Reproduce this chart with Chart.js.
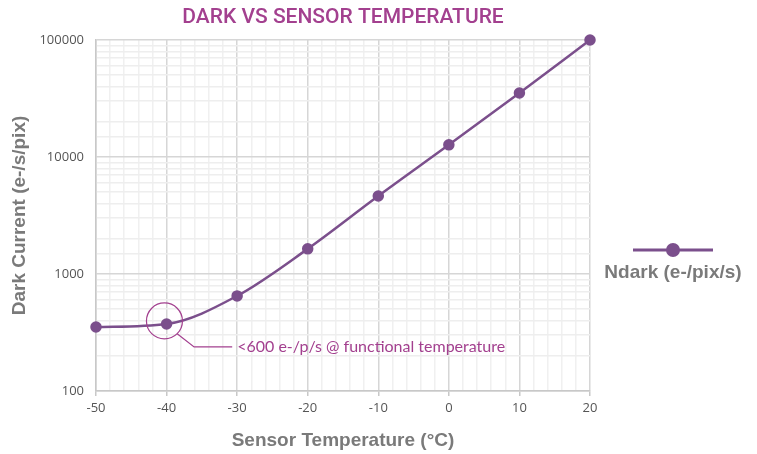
<!DOCTYPE html>
<html>
<head>
<meta charset="utf-8">
<script src="https://cdn.jsdelivr.net/npm/chart.js@4.4.1/dist/chart.umd.min.js"></script>
<style>
  html, body { margin: 0; padding: 0; background: #fff; }
  #wrap { width: 757px; height: 454px; }
</style>
</head>
<body>
<div id="wrap"><canvas id="chart" width="757" height="454"></canvas></div>
<script>
// sensor temperature (°C) vs dark current (e-/s/pix)
var temps = [-50, -40, -30, -20, -10, 0, 10, 20];
var darkCurrent = [352, 374, 650, 1640, 4640, 12700, 35200, 100000];
var xTicks = [-50, -40, -30, -20, -10, 0, 10, 20];
var yTicks = [100, 1000, 10000, 100000];

var chartTitle = 'DARK VS SENSOR TEMPERATURE';
var seriesName = 'Ndark (e-/pix/s)';
var noteText = '<600 e-/p/s @ functional temperature';
// callout: circle around the -40 point, elbow, end of leader, in data units
var noteCircle = { x: -40.3, y: 397 };
var noteElbow = { x: -36.1, y: 238 };
var noteEnd = { x: -30.7, y: 238 };

var lineColor = '#7b4f8c';
var accent = '#a3408f';
var grey = '#7a7a7a';
var tickFont = "'Liberation Sans Narrow', 'Open Sans', sans-serif";

var titlePlugin = {
  id: 'centerTitle',
  afterDraw: function (chart) {
    var ctx = chart.ctx;
    var a = chart.chartArea;
    ctx.save();
    ctx.fillStyle = accent;
    ctx.font = "500 21px Roboto, 'Open Sans', sans-serif";
    ctx.textAlign = 'center';
    ctx.textBaseline = 'middle';
    ctx.fillText(chartTitle, (a.left + a.right) / 2, 18);
    ctx.restore();
  }
};

var calloutPlugin = {
  id: 'callout',
  afterDatasetsDraw: function (chart) {
    var ctx = chart.ctx;
    var xs = chart.scales.x, ys = chart.scales.y;
    var cx = xs.getPixelForValue(noteCircle.x), cy = ys.getPixelForValue(noteCircle.y);
    var ex = xs.getPixelForValue(noteElbow.x), ey = ys.getPixelForValue(noteElbow.y);
    var tx = xs.getPixelForValue(noteEnd.x);
    var r = 18;
    ctx.save();
    ctx.strokeStyle = accent;
    ctx.lineWidth = 1.2;
    ctx.beginPath();
    ctx.arc(cx, cy, r, 0, Math.PI * 2);
    ctx.stroke();
    ctx.beginPath();
    ctx.moveTo(cx + r * Math.cos(Math.PI / 4), cy + r * Math.sin(Math.PI / 4));
    ctx.lineTo(ex, ey);
    ctx.lineTo(tx, ey);
    ctx.stroke();
    ctx.fillStyle = accent;
    ctx.font = "16px Lato, 'Open Sans', sans-serif";
    ctx.textBaseline = 'middle';
    ctx.fillText(noteText, tx + 5, ey);
    ctx.restore();
  }
};

var sideLegend = {
  id: 'sideLegend',
  afterDraw: function (chart) {
    var ctx = chart.ctx;
    var mid = chart.chartArea.right + 83;
    var y = chart.chartArea.top + 210;
    ctx.save();
    ctx.strokeStyle = lineColor;
    ctx.lineWidth = 3;
    ctx.beginPath();
    ctx.moveTo(mid - 40, y);
    ctx.lineTo(mid + 40, y);
    ctx.stroke();
    ctx.fillStyle = lineColor;
    ctx.beginPath();
    ctx.arc(mid, y, 7, 0, Math.PI * 2);
    ctx.fill();
    ctx.fillStyle = grey;
    ctx.font = "bold 19px 'Liberation Sans', Arial, sans-serif";
    ctx.textAlign = 'center';
    ctx.textBaseline = 'middle';
    ctx.fillText(seriesName, mid, y + 23);
    ctx.restore();
  }
};

function isDecade(v) {
  var l = Math.log10(v);
  return Math.abs(l - Math.round(l)) < 1e-9;
}

new Chart(document.getElementById('chart'), {
  type: 'line',
  data: {
    datasets: [{
      label: seriesName,
      data: temps.map(function (t, i) { return { x: t, y: darkCurrent[i] }; }),
      borderColor: lineColor,
      backgroundColor: lineColor,
      borderWidth: 2.5,
      pointRadius: 4.5,
      pointHoverRadius: 4.5,
      clip: false,
      cubicInterpolationMode: 'monotone'
    }]
  },
  plugins: [titlePlugin, calloutPlugin, sideLegend],
  options: {
    responsive: false,
    animation: false,
    layout: { padding: { left: 0, right: 167, top: 40, bottom: 0 } },
    plugins: {
      legend: { display: false },
      tooltip: { enabled: false },
      title: { display: false }
    },
    scales: {
      x: {
        type: 'linear',
        min: -50,
        max: 20,
        afterFit: function (s) { s.height = 63; },
        afterBuildTicks: function (s) {
          var t = [];
          for (var v = s.min; v <= s.max; v += 2) t.push({ value: v });
          s.ticks = t;
        },
        ticks: {
          autoSkip: false,
          maxRotation: 0,
          color: '#555',
          padding: 4,
          font: { family: tickFont, size: 13 },
          callback: function (v) { return xTicks.indexOf(v) >= 0 ? String(v) : ''; }
        },
        grid: {
          color: function (c) { return c.tick && xTicks.indexOf(c.tick.value) >= 0 ? '#d6d6d6' : '#f0f0f0'; },
          tickColor: function (c) { return c.tick && xTicks.indexOf(c.tick.value) >= 0 ? '#c8c8c8' : 'rgba(0,0,0,0)'; },
          tickLength: 5,
          lineWidth: 1.5
        },
        border: { color: '#c8c8c8', width: 1.5 },
        title: {
          display: true,
          text: 'Sensor Temperature (°C)',
          color: grey,
          font: { family: "'Liberation Sans', Arial, sans-serif", size: 19, weight: 'bold' },
          padding: { top: 4, bottom: 2 }
        }
      },
      y: {
        type: 'logarithmic',
        min: 100,
        max: 100000,
        afterFit: function (s) { s.width = 96; },
        ticks: {
          autoSkip: false,
          color: '#555',
          padding: 12,
          font: { family: tickFont, size: 13 },
          callback: function (v) { return yTicks.indexOf(v) >= 0 ? String(v) : ''; }
        },
        grid: {
          color: function (c) { return c.tick && isDecade(c.tick.value) ? '#d6d6d6' : '#eeeeee'; },
          lineWidth: 1.5,
          drawTicks: false
        },
        border: { color: '#c8c8c8', width: 1.5 },
        title: {
          display: true,
          text: 'Dark Current (e-/s/pix)',
          color: grey,
          font: { family: "'Liberation Sans', Arial, sans-serif", size: 19, weight: 'bold' },
          padding: { top: 8, bottom: 4 }
        }
      }
    }
  }
});
</script>
</body>
</html>
